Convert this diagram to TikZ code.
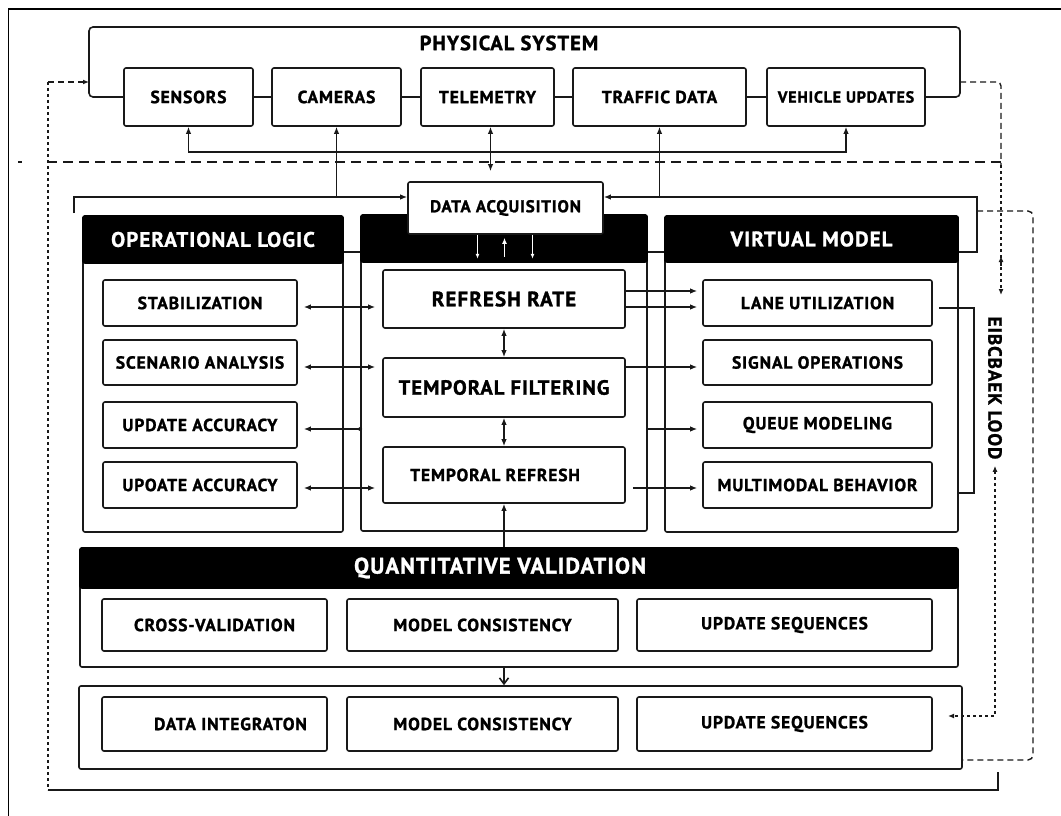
\documentclass[tikz,border=0pt]{standalone}
\usepackage{fontspec}
\setmainfont{PT Sans}
\newfontfamily\labfont[LetterSpace=5,FakeBold=1.3]{PT Sans}
\usetikzlibrary{arrows.meta,calc}
\newcommand\fs[1]{\labfont\bfseries\fontsize{#1}{#1}\selectfont}
% box from corner (x1,y1) to (x2,y2): \bx[style]{name}{x1}{y1}{x2}{y2}{text}
\newcommand\bx[7][]{%
  \pgfmathsetmacro\bxcx{(#3+#5)/2}%
  \pgfmathsetmacro\bxcy{(#4+#6)/2}%
  \pgfmathsetmacro\bxw{#5-#3}%
  \pgfmathsetmacro\bxh{#6-#4}%
  \node[box,minimum width=\bxw pt,minimum height=\bxh pt,#1] (#2) at (\bxcx,\bxcy) {#7};}
\begin{document}
\begin{tikzpicture}[x=1pt,y=-1pt,
  ln/.style={draw=black!90,line width=1.6pt},
  box/.style={ln,fill=white,rounded corners=2pt,inner sep=0pt,font={\fs{17.5}}},
  pnl/.style={fill=none},
  hdr/.style={fill=black,draw=black,text=white,font={\fs{21}}},
  arr/.style={ln,-{Latex[length=7pt,width=5.5pt]}},
  darr/.style={ln,{Latex[length=7pt,width=5.5pt]}-{Latex[length=7pt,width=5.5pt]}},
  dsh/.style={draw=black!90,line width=1.4pt,dash pattern=on 6pt off 4pt},
  dshlong/.style={draw=black!90,line width=1.4pt,dash pattern=on 10pt off 6pt},
  dotv/.style={draw=black!90,line width=1.8pt,dash pattern=on 3pt off 3pt},
]
\useasboundingbox (0,0) rectangle (1061,816);
\fill[white] (0,0) rectangle (1061,816);

% reference rows
\coordinate (bus) at (0,152);
\coordinate (acqy) at (0,197);
\coordinate (hcy) at (0,252);
\coordinate (r1b) at (0,291);
\coordinate (r1) at (0,307);
\coordinate (r2) at (0,367);
\coordinate (r3) at (0,429);
\coordinate (r4) at (0,488);

% outer frame
\draw[line width=1.8pt] (8.5,816) -- (8.5,9) -- (1061,9);

% ---------- physical system ----------
\node[font={\fs{20.5}}] (phys) at (509,43) {PHYSICAL SYSTEM};
\bx{sens}{124}{68}{253}{126}{SENSORS}
\bx{cam}{272}{68}{401}{126}{CAMERAS}
\bx{tele}{421}{68}{554}{126}{TELEMETRY}
\bx{traf}{573}{68}{746}{126}{TRAFFIC DATA}
\bx[font={\fs{16}}]{veh}{767}{68}{925}{126}{VEHICLE UPDATES}
\draw[ln] (sens.east) -- (cam.west);
\draw[ln] (cam.east) -- (tele.west);
\draw[ln] (tele.east) -- (traf.west);
\draw[ln] (traf.east) -- (veh.west);
\draw[ln,rounded corners=4pt] (sens.west) -- (89,97) -- (89,27) -- (960,27) -- (960,97) -- (veh.east);

% ---------- panels ----------
\bx[pnl]{olp}{83}{216}{343}{532}{}
\bx[pnl]{cp}{361}{215}{647}{531}{}
\bx[pnl]{vp}{665}{216}{958}{532}{}
\bx[hdr]{olh}{83}{216}{343}{263}{OPERATIONAL LOGIC}
\bx[hdr]{ch}{361}{215}{647}{262}{}
\bx[hdr]{vh}{665}{216}{958}{262}{VIRTUAL MODEL}
\draw[ln] (olh.east |- hcy) -- (ch.west |- hcy);
\draw[ln] (ch.east |- hcy) -- (vh.west |- hcy);

\bx[pnl]{qp}{80}{548}{958}{667}{}
\bx[hdr,font={\fs{22.5}}]{qh}{80}{548}{958}{588}{QUANTITATIVE VALIDATION\hspace*{38pt}}
\bx[pnl]{bp}{79}{686}{962}{769}{}

% ---------- data acquisition ----------
\bx[font={\fs{17}}]{acq}{408}{182}{603}{234}{DATA ACQUISITION}
\draw[white,line width=1.2pt,-{Latex[length=5pt,width=4pt]}] ([xshift=-28pt]acq.south) -- ([xshift=-28pt,yshift=-24pt]acq.south);
\draw[white,line width=1.5pt,-{Latex[length=6pt,width=5pt]}] ([xshift=-1pt,yshift=-22pt]acq.south) -- ([xshift=-1pt,yshift=-3pt]acq.south);
\draw[white,line width=1.2pt,-{Latex[length=5pt,width=4pt]}] ([xshift=27pt]acq.south) -- ([xshift=27pt,yshift=-24pt]acq.south);

% ---------- operational logic ----------
\bx{stab}{103}{280}{297}{326}{STABILIZATION}
\bx{scen}{103}{340}{297}{385}{SCENARIO ANALYSIS}
\bx{upd}{103}{402}{297}{448}{UPDATE ACCURACY}
\bx{upo}{103}{462}{297}{508}{UPOATE ACCURACY}

% ---------- centre column ----------
\bx[font={\fs{21}}]{ref}{383}{270}{625}{328}{REFRESH RATE}
\bx[font={\fs{20.5}}]{filt}{383}{358}{625}{417}{TEMPORAL FILTERING}
\bx[font={\fs{17.5}}]{tref}{383}{447}{625}{503}{TEMPORAL REFRESH\hspace*{18pt}}

% ---------- virtual model ----------
\bx{lane}{703}{280}{932}{326}{LANE UTILIZATION}
\bx{sig}{703}{340}{932}{385}{SIGNAL OPERATIONS}
\bx{que}{703}{402}{932}{448}{QUEUE MODELING}
\bx{multi}{703}{462}{932}{508}{MULTIMODAL BEHAVIOR}

% ---------- validation rows ----------
\bx{cross}{102}{599}{327}{651}{CROSS-VALIDATION}
\bx{mc}{347}{599}{618}{651}{MODEL CONSISTENCY}
\bx{us}{637}{599}{932}{651}{UPDATE SEQUENCES}
\bx{dint}{102}{697}{327}{751}{\hspace*{32pt}DATA INTEGRATON}
\bx{mc2}{347}{697}{618}{751}{MODEL CONSISTENCY}
\bx{us2}{637}{697}{932}{751}{UPDATE SEQUENCES}

% ---------- physical links ----------
\draw[darr] (sens.south) -- (sens.south |- bus) -| (veh.south);
\coordinate (lbr) at (74,213);
\draw[arr] (lbr) |- (acq.west |- acqy);
\draw[ln,{Latex[length=7pt,width=5.5pt]}-] (cam.south) -- (cam.south |- acqy);
\draw[darr,shorten >=10pt] ([xshift=3pt]tele.south) -- ([xshift=3pt]tele.south |- acq.north);
\draw[ln,{Latex[length=7pt,width=5.5pt]}-] (traf.south) -- (traf.south |- acqy);
\coordinate (rbr) at (977,252);
\draw[arr] (vh.east |- hcy) -- (rbr) -- (rbr |- acqy) -- (acq.east |- acqy);

% ---------- operational logic links ----------
\draw[darr,shorten <=6pt,shorten >=7pt] (stab.east |- r1) -- (ref.west |- r1);
\draw[darr,shorten <=6pt,shorten >=7pt] (scen.east |- r2) -- (filt.west |- r2);
\draw[arr,shorten >=6pt] (cp.west |- r3) -- (upd.east |- r3);
\fill[black!90] (cp.west |- r3) circle (2pt);
\draw[darr,shorten <=6pt,shorten >=7pt] (upo.east |- r4) -- (tref.west |- r4);

% ---------- centre links ----------
\draw[darr] (ref.south) -- (filt.north);
\draw[darr] (filt.south) -- (tref.north);
\draw[arr] (qh.north -| tref.south) -- (tref.south);
\draw[ln,-{Straight Barb[length=6pt,width=9pt]}] (qp.south -| tref.south) -- (bp.north -| tref.south);

% ---------- virtual model links ----------
\draw[arr,shorten >=5pt] (ref.east |- r1b) -- (lane.west |- r1b);
\draw[arr,shorten >=5pt] (ref.east |- r1) -- (lane.west |- r1);
\draw[arr,shorten >=5pt] (filt.east |- r2) -- (sig.west |- r2);
\draw[arr,shorten >=5pt] (cp.east |- r3) -- (que.west |- r3);
\draw[arr,shorten <=7pt,shorten >=5pt] (tref.east |- r4) -- (multi.west |- r4);
\coordinate (lb1) at (939,308);
\coordinate (lb2) at (974,493);
\draw[ln] (lb1) -| (lb2) -- (lb2 -| vp.east);

% ---------- feedback loop ----------
\coordinate (dl1) at (48,82);
\coordinate (dl2) at (48,790);
\coordinate (pf) at (89,82);
\coordinate (br1) at (998,790);
\coordinate (br2) at (998,772);
\draw[dsh,-{Latex[length=6pt,width=5pt]}] (dl1) -- (pf);
\draw[dotv] (dl1) -- (dl2);
\draw[ln] (dl2) -- (br1) -- (br2);
\draw[dshlong] (47,162) -- (1001,162);
\draw[ln] (18,162) -- (22,162);

\coordinate (fr1) at (960,82);
\coordinate (fr2) at (1001,82);
\coordinate (fr3) at (1001,295);
\draw[dsh,rounded corners=4pt] (fr1) -- (fr2) -- (1001,165);
\draw[dotv,-{Latex[length=6pt,width=5pt]}] (1001,165) -- (fr3);
\draw[ln,-{Latex[length=6pt,width=5pt]}] (1001,266) -- (1001,256);
\node[rotate=-90,font={\fs{19}}] (fb) at (995,388) {EIBCBAEK LOOD};
\coordinate (fbe) at (948,716);
\draw[dotv,{Latex[length=6pt,width=5pt]}-{Latex[length=6pt,width=5pt]}] ([yshift=-3pt]fb.east) |- (fbe);

\coordinate (o1) at (977,211);
\coordinate (o2) at (1033,211);
\coordinate (o3) at (1033,760);
\draw[dsh,rounded corners=5pt] (o1) -- (o2) -- (o3) -- (bp.east |- o3);
\end{tikzpicture}
\end{document}
